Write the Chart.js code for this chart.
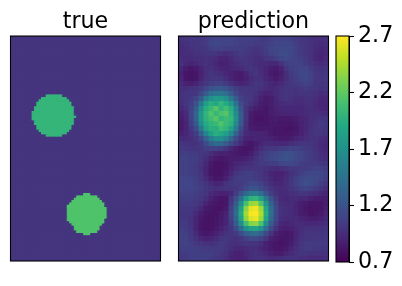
<!DOCTYPE html>
<html>
<head>
<meta charset="utf-8">
<script src="https://cdn.jsdelivr.net/npm/chart.js@4"></script>
<style>
  html, body { margin: 0; padding: 0; background: #ffffff; overflow: hidden; }
  canvas { position: absolute; top: 0; }
</style>
</head>
<body>
<canvas id="trueChart" width="170" height="286" style="left:0"></canvas>
<canvas id="predictionChart" width="168" height="286" style="left:168px"></canvas>
<canvas id="colorbarChart" width="72" height="286" style="left:330px"></canvas>
<script>
const colorbarTicks = [0.7, 1.2, 1.7, 2.2, 2.7];
const valueMin = 0.7;
const valueMax = 2.7;

// true panel: 64 x 96 cells, flat background and two discs stored as row runs [row, firstCol, lastCol]
const trueCols = 64;
const trueRows = 96;
const trueBackground = 1.0;
const discOneValue = 2.01;
const discOneRuns = [
  [25, 15, 21], [26, 13, 23], [27, 12, 24], [28, 11, 25], [29, 11, 25], [30, 10, 26],
  [31, 10, 26], [32, 9, 26], [33, 9, 26], [34, 9, 27], [35, 9, 26], [36, 10, 26],
  [37, 10, 26], [38, 11, 25], [39, 11, 25], [40, 12, 24], [41, 13, 23], [42, 15, 21]
];
const discTwoValue = 2.14;
const discTwoRuns = [
  [67, 31, 33], [68, 28, 36], [69, 27, 37], [70, 26, 38], [71, 25, 39], [72, 24, 39],
  [73, 24, 40], [74, 24, 40], [75, 24, 40], [76, 24, 40], [77, 24, 40], [78, 24, 39],
  [79, 25, 39], [80, 26, 38], [81, 27, 37], [82, 27, 37], [83, 28, 36], [84, 31, 33]
];

// prediction panel, values x 100
const predictionRows = [
  [98,100,102,100,102,104,108,110,110,110,110,108,106,106,108,106,104,104,106,108,108,108,106,104,102,100,98,96,96,98],
  [96,98,100,100,102,104,110,112,110,110,110,108,106,106,106,104,104,106,108,110,112,112,110,106,102,100,98,96,94,96],
  [94,96,98,100,100,102,106,108,108,106,106,106,106,104,102,100,102,106,110,112,114,114,112,108,104,100,98,94,92,94],
  [94,96,96,98,98,100,100,100,98,96,98,102,104,102,100,98,100,104,108,112,116,116,112,108,104,100,98,92,90,92],
  [96,94,94,96,96,98,96,94,90,90,94,98,102,100,98,96,96,100,102,106,110,114,110,108,106,102,98,92,90,94],
  [98,92,90,92,96,98,96,92,88,88,92,96,98,100,98,96,94,94,92,92,98,106,108,108,108,104,100,96,94,96],
  [92,86,82,84,90,96,98,94,90,90,92,92,94,98,100,98,94,90,86,84,88,100,106,108,110,110,104,100,98,100],
  [88,82,80,82,88,96,100,98,96,92,88,86,84,90,98,100,96,90,84,82,86,96,104,108,112,114,108,102,100,102],
  [90,82,80,82,90,98,102,102,100,96,90,86,84,88,94,98,98,92,88,84,88,96,102,106,110,112,108,102,102,104],
  [94,88,86,90,96,102,106,108,108,104,98,92,90,92,96,100,100,96,92,90,94,98,102,104,106,108,106,100,100,102],
  [96,96,98,100,104,112,120,124,126,122,114,106,100,100,100,100,98,94,92,94,98,100,100,100,102,104,102,100,98,100],
  [98,100,100,102,112,128,142,148,148,142,128,112,104,102,102,98,92,88,90,94,98,100,100,98,100,100,100,98,94,96],
  [98,100,104,110,128,154,170,178,176,168,150,126,108,104,102,96,88,84,86,92,98,100,98,96,96,98,98,96,92,92],
  [96,100,106,120,148,180,196,190,200,192,174,146,116,104,98,92,86,84,86,90,94,96,96,94,94,96,96,94,90,90],
  [92,98,108,128,166,194,204,216,198,208,194,160,122,100,92,86,84,82,86,90,92,92,92,92,92,94,96,94,92,90],
  [88,94,110,134,174,200,214,202,212,216,198,166,126,100,86,82,82,82,86,88,90,90,90,90,92,94,96,96,96,94],
  [86,92,108,132,174,198,208,216,200,206,202,170,128,100,84,80,80,82,84,86,84,84,84,86,90,92,96,98,100,100],
  [84,90,106,126,166,192,200,204,214,204,198,164,124,98,84,82,82,82,84,84,82,82,82,84,88,92,96,100,104,102],
  [84,90,102,116,150,182,196,194,206,200,184,152,116,96,86,84,84,84,84,82,82,80,80,82,88,92,98,100,102,100],
  [88,92,98,106,130,160,182,196,190,180,164,132,108,94,90,90,90,88,84,82,82,82,82,84,88,94,98,100,100,98],
  [94,94,96,100,112,134,154,166,168,156,136,114,100,90,88,90,90,90,88,86,84,84,86,90,92,96,98,98,96,94],
  [100,98,98,98,104,116,130,138,138,128,114,104,94,84,82,86,90,94,94,92,92,92,96,98,100,100,100,98,94,92],
  [104,102,100,100,102,106,108,108,106,100,92,86,82,80,82,88,96,100,102,102,104,106,108,108,106,104,102,98,94,92],
  [106,106,104,104,102,100,96,90,88,88,86,84,82,82,86,94,102,106,110,112,116,118,118,114,110,106,104,100,96,94],
  [108,108,106,106,102,96,88,84,82,84,86,86,86,88,92,98,104,108,112,114,118,120,118,114,110,106,104,100,98,96],
  [108,108,106,104,100,92,84,80,80,82,86,90,92,94,96,100,104,104,106,106,110,112,112,110,106,104,104,104,102,100],
  [108,108,106,104,98,90,82,80,80,82,88,94,98,100,100,100,100,98,96,94,96,98,102,102,104,104,106,108,108,106],
  [108,108,106,104,100,90,82,80,80,84,92,100,104,106,106,104,100,96,90,88,88,92,98,102,106,110,112,112,112,108],
  [110,110,108,106,102,94,86,82,82,88,98,104,106,106,106,104,102,98,92,88,90,94,100,106,112,116,116,114,110,106],
  [110,112,110,108,104,100,94,90,92,98,102,104,104,108,112,112,108,102,96,92,92,96,102,108,114,118,116,110,106,102],
  [110,110,110,108,106,102,98,96,98,100,100,102,106,114,120,122,116,108,100,96,94,96,100,104,108,110,108,104,100,96],
  [108,108,108,106,104,100,94,90,88,88,92,106,120,138,150,152,140,122,106,98,94,94,96,98,100,100,98,96,92,90],
  [106,106,106,104,102,96,88,84,82,82,100,118,144,178,198,200,182,150,122,104,94,92,94,94,92,92,88,86,86,86],
  [104,104,104,102,98,90,84,82,80,82,104,128,166,210,238,242,214,172,132,110,96,94,94,90,86,84,82,82,82,86],
  [102,102,102,98,92,84,82,80,80,84,108,136,182,234,262,266,240,188,140,114,98,96,94,90,86,82,80,80,82,88],
  [100,100,100,94,86,82,80,80,84,88,110,140,190,242,268,270,246,194,144,114,98,96,94,92,86,84,80,82,84,90],
  [102,102,98,90,84,80,80,82,84,90,108,136,184,236,260,264,240,188,138,112,96,94,94,94,90,88,86,86,88,92],
  [104,104,98,90,82,80,80,82,86,90,104,128,166,208,232,236,212,166,128,106,92,90,92,94,94,92,92,92,94,96],
  [106,104,100,90,82,80,80,84,88,94,100,116,140,168,184,186,170,142,114,98,88,86,88,92,96,98,98,98,98,100],
  [108,106,102,94,84,82,84,88,94,98,100,104,116,130,138,140,130,114,100,88,84,82,84,90,96,100,100,100,100,102],
  [108,108,104,98,92,88,90,94,100,102,100,98,102,108,114,114,108,100,88,84,82,82,84,92,98,100,102,102,102,104],
  [108,108,106,102,100,98,98,100,104,102,98,96,98,100,100,100,96,88,84,82,80,82,86,94,100,104,104,104,104,104],
  [106,106,106,106,104,104,104,104,104,100,96,92,92,94,96,96,92,88,84,82,82,84,90,96,102,104,104,102,102,102],
  [104,104,106,106,106,106,106,104,102,98,92,88,88,92,96,98,96,92,88,86,86,90,94,98,100,100,98,98,98,98],
  [102,104,106,106,106,106,104,102,100,96,90,88,88,90,96,98,98,96,94,94,96,98,98,98,96,96,94,94,94,96]
];

const viridisStops = ["#440154", "#482475", "#414487", "#355f8d", "#2a788e", "#21918c", "#22a884", "#44bf70", "#7ad151", "#bddf26", "#fde725"];
const fontFamily = '"DejaVu Sans", sans-serif';
const fontSize = 22.2;
// cells overlap by this many px, otherwise antialiased edges leave pale seams
const cellOverlap = 1.1;

function hexToRgb(hex) {
  return [1, 3, 5].map((i) => parseInt(hex.slice(i, i + 2), 16));
}

function valueToColor(value) {
  const t = Math.min(1, Math.max(0, (value - valueMin) / (valueMax - valueMin))) * (viridisStops.length - 1);
  const low = Math.min(Math.floor(t), viridisStops.length - 2);
  const a = hexToRgb(viridisStops[low]);
  const b = hexToRgb(viridisStops[low + 1]);
  const mix = a.map((c, i) => Math.round(c + (b[i] - c) * (t - low)));
  return `rgb(${mix[0]}, ${mix[1]}, ${mix[2]})`;
}

function buildTrueCells() {
  const grid = Array.from({ length: trueRows }, () => Array(trueCols).fill(trueBackground));
  discOneRuns.forEach(([row, first, last]) => grid[row].fill(discOneValue, first, last + 1));
  discTwoRuns.forEach(([row, first, last]) => grid[row].fill(discTwoValue, first, last + 1));
  return gridToCells(grid);
}

function gridToCells(grid) {
  const cells = [];
  grid.forEach((row, y) => {
    row.forEach((value, x) => {
      cells.push({ x: x + 0.5, y: y + 0.5, v: value });
    });
  });
  return cells;
}

const axesFrame = {
  id: "axesFrame",
  afterDraw(chart) {
    const { ctx, chartArea } = chart;
    ctx.save();
    ctx.strokeStyle = "#000000";
    ctx.lineWidth = 1.1;
    ctx.strokeRect(chartArea.left, chartArea.top, chartArea.width, chartArea.height);
    ctx.restore();
  }
};

function createHeatmap(canvasId, titleText, cells, cols, rows, padding) {
  // later cells cover half the overlap of earlier ones, so nudge the scales to keep edges in place
  const nudge = (cellOverlap / 2) / (150 / cols);
  return new Chart(document.getElementById(canvasId), {
    type: "scatter",
    data: {
      datasets: [
        {
          data: cells,
          clip: 0,
          pointStyle: "rect",
          pointBorderWidth: 0,
          pointBackgroundColor: (context) => valueToColor(context.raw.v),
          pointRadius: (context) => (context.chart.scales.x.width / cols + cellOverlap) * Math.SQRT1_2
        }
      ]
    },
    options: {
      responsive: false,
      animation: false,
      events: [],
      layout: { padding },
      plugins: {
        legend: { display: false },
        tooltip: { enabled: false },
        title: {
          display: true,
          text: titleText,
          color: "#000000",
          padding: { top: 9, bottom: 0.4 },
          font: { family: fontFamily, size: fontSize, weight: "normal" }
        }
      },
      scales: {
        x: { type: "linear", min: -nudge, max: cols - nudge, display: false },
        y: { type: "linear", min: -nudge, max: rows - nudge, reverse: true, display: false }
      }
    },
    plugins: [axesFrame]
  });
}

function createColorbar() {
  return new Chart(document.getElementById("colorbarChart"), {
    type: "bar",
    data: {
      labels: [""],
      datasets: [
        {
          data: [[valueMin, valueMax]],
          barPercentage: 1,
          categoryPercentage: 1,
          borderWidth: 0,
          backgroundColor: (context) => {
            const { ctx, chartArea } = context.chart;
            if (!chartArea) {
              return viridisStops[0];
            }
            const gradient = ctx.createLinearGradient(0, chartArea.bottom, 0, chartArea.top);
            viridisStops.forEach((stop, i) => gradient.addColorStop(i / (viridisStops.length - 1), stop));
            return gradient;
          }
        }
      ]
    },
    options: {
      responsive: false,
      animation: false,
      events: [],
      layout: { padding: { left: 6, top: 36, bottom: 24, right: 0 } },
      plugins: {
        legend: { display: false },
        tooltip: { enabled: false }
      },
      scales: {
        x: { display: false },
        y: {
          position: "right",
          min: valueMin,
          max: valueMax,
          afterFit: (scale) => { scale.width = 53; },
          afterBuildTicks: (scale) => { scale.ticks = colorbarTicks.map((value) => ({ value })); },
          border: { display: true, color: "#000000", width: 1 },
          grid: { drawOnChartArea: false, drawTicks: true, tickLength: 5, tickColor: "#000000", tickWidth: 1.1 },
          ticks: {
            color: "#000000",
            padding: 4,
            autoSkip: false,
            maxRotation: 0,
            callback: (value) => value.toFixed(1),
            font: { family: fontFamily, size: fontSize }
          }
        }
      }
    },
    plugins: [axesFrame]
  });
}

createHeatmap("trueChart", "true", buildTrueCells(), trueCols, trueRows, { left: 10.5, right: 9.5, top: 0, bottom: 25 });
createHeatmap(
  "predictionChart",
  "prediction",
  gridToCells(predictionRows.map((row) => row.map((value) => value / 100))),
  predictionRows[0].length,
  predictionRows.length,
  { left: 10.5, right: 7.5, top: 0, bottom: 25 }
);
createColorbar();
</script>
</body>
</html>
